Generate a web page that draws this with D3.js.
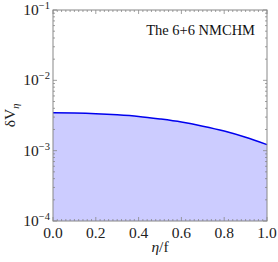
<!DOCTYPE html>
<html><head><meta charset="utf-8">
<script src="https://cdn.jsdelivr.net/npm/d3@7"></script>
<style>body{margin:0;background:#fff}svg{display:block}
svg text{font-family:"Liberation Serif","Times New Roman","DejaVu Serif",serif;}</style>
</head><body>
<script>
const etaValues = [0.0,0.1,0.2,0.3,0.4,0.5,0.6,0.7,0.8,0.9,1.0];
const dV = [3.46e-3,3.43e-3,3.36e-3,3.24e-3,3.07e-3,2.82e-3,2.55e-3,2.23e-3,1.90e-3,1.55e-3,1.22e-3];
const xTicks = [0.0,0.2,0.4,0.6,0.8,1.0];
const yTicks = [1e-4,1e-3,1e-2,1e-1];
const yExps = ["−4","−3","−2","−1"];
const annotation = "The 6+6 NMCHM";

const W=278,H=262, m={l:53,r:11,t:10,b:41};
const svg=d3.select("body").append("svg").attr("width",W).attr("height",H);
const x=d3.scaleLinear().domain([0,1]).range([m.l,W-m.r]);
const y=d3.scaleLog().domain([1e-4,1e-1]).range([H-m.b,m.t]);
const axisCol="#888";

const pts=etaValues.map((e,i)=>[e,dV[i]]);
svg.append("path").datum(pts)
  .attr("d",d3.area().x(d=>x(d[0])).y0(y(1e-4)).y1(d=>y(d[1])).curve(d3.curveMonotoneX))
  .attr("fill","#ccccff");
svg.append("path").datum(pts)
  .attr("d",d3.line().x(d=>x(d[0])).y(d=>y(d[1])).curve(d3.curveMonotoneX))
  .attr("fill","none").attr("stroke","#0000ee").attr("stroke-width",1.5);

svg.append("rect").attr("x",x(0)).attr("y",y(1e-1)).attr("width",x(1)-x(0)).attr("height",y(1e-4)-y(1e-1))
  .attr("fill","none").attr("stroke",axisCol).attr("stroke-width",1);

const g=svg.append("g").attr("stroke",axisCol).attr("stroke-width",0.8);
const xMinor=d3.range(0,1.0001,0.02);
xMinor.forEach(v=>{
  const major=xTicks.some(t=>Math.abs(t-v)<1e-6);
  const L=major?4:2;
  g.append("line").attr("x1",x(v)).attr("x2",x(v)).attr("y1",y(1e-4)).attr("y2",y(1e-4)-L);
  g.append("line").attr("x1",x(v)).attr("x2",x(v)).attr("y1",y(1e-1)).attr("y2",y(1e-1)+L);
});
const yMinor=[];
[1e-4,1e-3,1e-2].forEach(d=>{for(let k=2;k<=9;k++) yMinor.push(d*k);});
yMinor.forEach(v=>{
  g.append("line").attr("x1",x(0)).attr("x2",x(0)+2).attr("y1",y(v)).attr("y2",y(v));
  g.append("line").attr("x1",x(1)).attr("x2",x(1)-2).attr("y1",y(v)).attr("y2",y(v));
});
yTicks.forEach(v=>{
  g.append("line").attr("x1",x(0)).attr("x2",x(0)+4).attr("y1",y(v)).attr("y2",y(v));
  g.append("line").attr("x1",x(1)).attr("x2",x(1)-4).attr("y1",y(v)).attr("y2",y(v));
});

svg.append("g").selectAll("text").data(xTicks).join("text")
  .attr("x",d=>x(d)).attr("y",y(1e-4)+17).attr("text-anchor","middle")
  .attr("font-size",15.5).attr("fill","#222")
  .text(d=>d.toFixed(1));

yTicks.forEach((v,i)=>{
  const t=svg.append("text").attr("x",x(0)-3).attr("y",y(v)+5).attr("text-anchor","end")
    .attr("font-size",15.5).attr("fill","#222");
  t.append("tspan").text("10");
  t.append("tspan").attr("dy",-6).attr("font-size",10.5).text(yExps[i]);
});

svg.append("text").attr("x",(x(0)+x(1))/2).attr("y",H-10).attr("text-anchor","middle")
  .attr("font-size",15.5).attr("fill","#222")
  .html('<tspan font-style="italic">η</tspan>/f');
svg.append("text").attr("transform",`translate(15,${(y(1e-4)+y(1e-1))/2}) rotate(-90)`)
  .attr("text-anchor","middle").attr("font-size",15.5).attr("fill","#222")
  .html('δV<tspan font-style="italic" font-size="10.5" dy="4">η</tspan>');

svg.append("text").attr("x",x(1)-12).attr("y",y(1e-1)+25).attr("text-anchor","end")
  .attr("font-size",14.5).attr("fill","#111").text(annotation);
</script>
</body></html>
